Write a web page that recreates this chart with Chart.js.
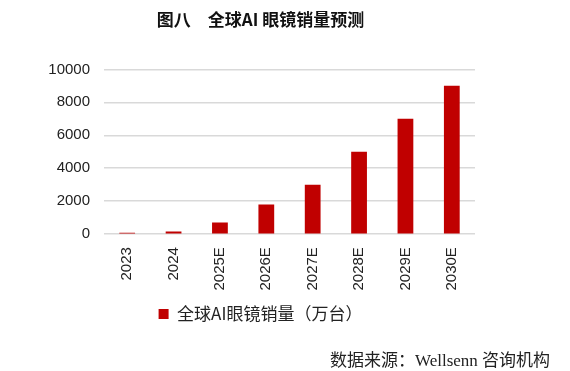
<!DOCTYPE html>
<html>
<head>
<meta charset="utf-8">
<script src="https://cdn.jsdelivr.net/npm/chart.js@4/dist/chart.umd.min.js"></script>
<style>
  body { margin: 0; background: #fff; width: 570px; height: 371px; overflow: hidden; position: relative; }
  #chart { position: absolute; left: 0; top: 0; }
  .source {
    position: absolute; left: 330px; top: 346px;
    font: 17px "Liberation Serif", "Noto Sans CJK SC", serif; color: #222; white-space: nowrap;
  }
</style>
</head>
<body>
<canvas id="chart" width="525" height="371"></canvas>
<div class="source">数据来源：Wellsenn 咨询机构</div>
<script>
// 年份
const years = ['2023', '2024', '2025E', '2026E', '2027E', '2028E', '2029E', '2030E'];
// 全球AI眼镜销量（万台）
const sales = [80, 160, 700, 1800, 3000, 5000, 7000, 9000];
const yTicks = [0, 2000, 4000, 6000, 8000, 10000];

const ctx = document.getElementById('chart').getContext('2d');
new Chart(ctx, {
  type: 'bar',
  data: {
    labels: years,
    datasets: [{
      label: '全球AI眼镜销量（万台）',
      data: sales,
      backgroundColor: '#c00000',
      barPercentage: 0.34,
      categoryPercentage: 1
    }]
  },
  options: {
    responsive: false,
    animation: false,
    layout: { padding: { left: 46, right: 50, bottom: 38.5 } },
    plugins: {
      title: {
        display: true,
        text: '图八　全球AI 眼镜销量预测',
        color: '#111',
        font: { family: '"Noto Sans CJK SC"', size: 17, weight: 'bold' },
        padding: { top: 9, bottom: 40 }
      },
      legend: {
        position: 'bottom',
        labels: {
          boxWidth: 10,
          boxHeight: 10,
          padding: 10,
          color: '#222',
          font: { family: '"Noto Sans CJK SC"', size: 17 }
        }
      },
      tooltip: { enabled: false }
    },
    scales: {
      x: {
        grid: { display: false },
        border: { display: false },
        ticks: {
          minRotation: 90,
          maxRotation: 90,
          padding: 5,
          color: '#222',
          font: { family: '"Liberation Sans", Arial', size: 15 }
        }
      },
      y: {
        min: 0,
        max: 10000,
        afterBuildTicks: axis => { axis.ticks = yTicks.map(v => ({ value: v })); },
        afterFit: axis => { axis.width = 58; },
        grid: { color: '#d9d9d9', lineWidth: 1.5, drawTicks: false },
        border: { display: false },
        ticks: {
          padding: 14,
          color: '#222',
          callback: v => String(v),
          font: { family: '"Liberation Sans", Arial', size: 15 }
        }
      }
    }
  }
});
</script>
</body>
</html>
